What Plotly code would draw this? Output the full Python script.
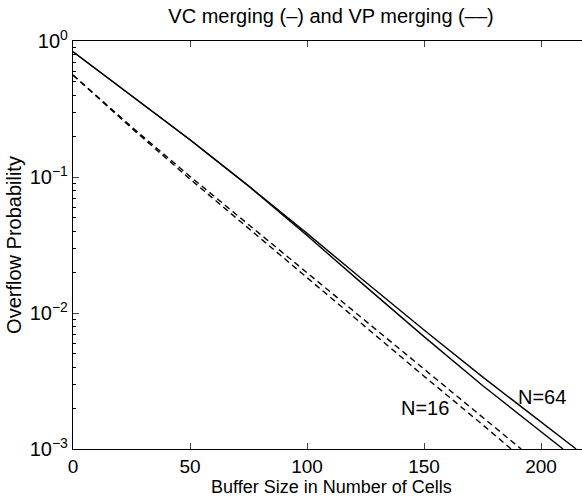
import plotly.graph_objects as go

# Buffer sizes (cells) and overflow probabilities
x_vc_a = [0, 25, 50, 75, 100, 125, 150, 175, 200, 215]
y_vc_a = [0.834, 0.398, 0.188, 0.0861, 0.0385, 0.0169, 0.0075, 0.00339, 0.00158, 0.001]

x_vc_b = [0, 25, 50, 75, 100, 125, 150, 175, 200, 209.4]
y_vc_b = [0.834, 0.398, 0.188, 0.0858, 0.0371, 0.0157, 0.00670, 0.00293, 0.00133, 0.001]

x_vp_a = [0, 25, 50, 75, 100, 125, 150, 175, 191.5]
y_vp_a = [0.562, 0.234, 0.101, 0.0447, 0.0197, 0.00871, 0.00385, 0.00172, 0.001]

x_vp_b = [0, 25, 50, 75, 100, 125, 150, 175, 187.2]
y_vp_b = [0.562, 0.229, 0.0966, 0.0419, 0.0182, 0.00789, 0.00343, 0.00151, 0.001]

x_ticks = [0, 50, 100, 150, 200]
y_ticks = [1e-3, 1e-2, 1e-1, 1]
y_ticktext = ["10<sup>−3</sup>", "10<sup>−2</sup>", "10<sup>−1</sup>", "10<sup>0</sup>"]
y_minor = [m * 10.0 ** e for e in (-3, -2, -1) for m in range(2, 10)]

FONT = "Liberation Sans, Arial, Helvetica, sans-serif"

fig = go.Figure()
line_solid = dict(color="black", width=1.4)
line_dash = dict(color="black", width=1.4, dash="6px,4px")
fig.add_trace(go.Scatter(x=x_vc_a, y=y_vc_a, mode="lines", line=line_solid, name="VC N=64"))
fig.add_trace(go.Scatter(x=x_vc_b, y=y_vc_b, mode="lines", line=line_solid, name="VC N=16"))
fig.add_trace(go.Scatter(x=x_vp_a, y=y_vp_a, mode="lines", line=line_dash, name="VP N=64"))
fig.add_trace(go.Scatter(x=x_vp_b, y=y_vp_b, mode="lines", line=line_dash, name="VP N=16"))

fig.add_annotation(x=200.4, y=-2.618, text="N=64", showarrow=False, xref="x", yref="y",
                   font=dict(family=FONT, size=20, color="black"))
fig.add_annotation(x=150.4, y=-2.70, text="N=16", showarrow=False, xref="x", yref="y",
                   font=dict(family=FONT, size=20, color="black"))
# x-axis title placed explicitly (tight spacing as in the reference)
fig.add_annotation(x=(331 - 73) / 509, y=-38 / 408, xref="paper", yref="paper",
                   text="Buffer Size in Number of Cells", showarrow=False,
                   xanchor="center", yanchor="middle", borderpad=0,
                   font=dict(family=FONT, size=18, color="black"))

fig.update_layout(
    width=582, height=497,
    margin=dict(l=73, r=0, t=41, b=48),
    paper_bgcolor="white", plot_bgcolor="white",
    showlegend=False,
    font=dict(family=FONT, size=20, color="black"),
    title=dict(text="VC merging (–) and VP merging (––)", x=331 / 582, xanchor="center",
               y=1 - 16 / 497, yanchor="middle", font=dict(family=FONT, size=20, color="black")),
    xaxis=dict(range=[0, 217.5], tickvals=x_ticks, ticks="inside", ticklen=6,
               showline=True, linecolor="black", linewidth=1.2, mirror="ticks",
               showgrid=False, zeroline=False,
               tickfont=dict(family=FONT, size=19)),
    yaxis=dict(type="log", range=[-3, 0], tickvals=y_ticks, ticktext=y_ticktext,
               ticks="inside", ticklen=6, showline=True, linecolor="black", linewidth=1.2,
               mirror=False, showgrid=False, zeroline=False,
               tickfont=dict(family=FONT, size=20),
               minor=dict(tickvals=y_minor, ticks="inside", ticklen=3, tickcolor="black", showgrid=False),
               title=dict(text="Overflow Probability", standoff=2,
                          font=dict(family=FONT, size=20))),
)

fig.write_html("out.html")
